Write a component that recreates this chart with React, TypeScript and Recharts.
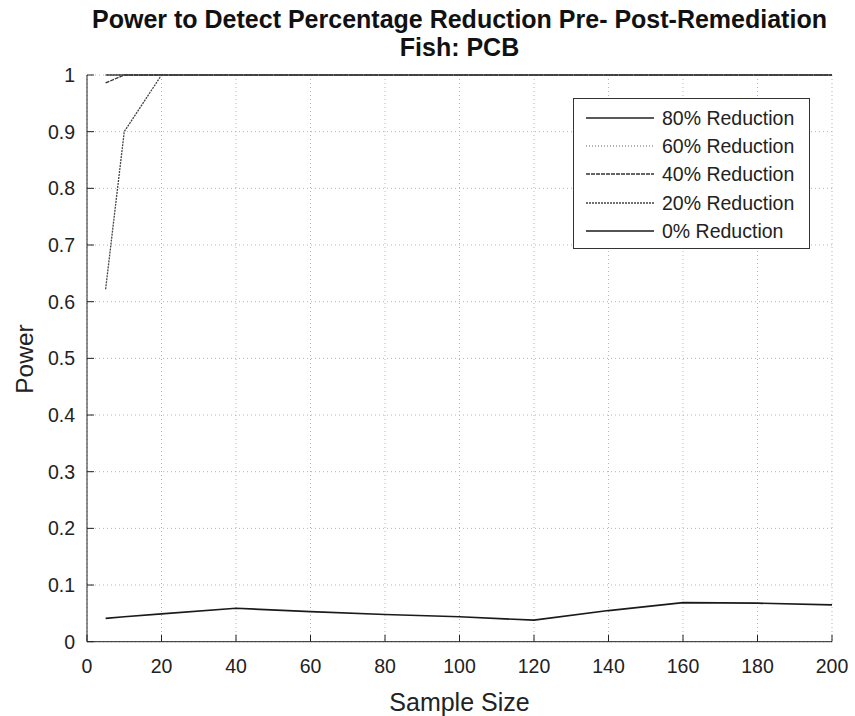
import { CartesianGrid, Legend, Line, LineChart, XAxis, YAxis } from "recharts";

const sampleSizes = [5, 10, 20, 40, 60, 80, 100, 120, 140, 160, 180, 200];
const power80 = [1, 1, 1, 1, 1, 1, 1, 1, 1, 1, 1, 1];
const power60 = [1, 1, 1, 1, 1, 1, 1, 1, 1, 1, 1, 1];
const power40 = [0.986, 1, 1, 1, 1, 1, 1, 1, 1, 1, 1, 1];
const power20 = [0.622, 0.9, 1, 1, 1, 1, 1, 1, 1, 1, 1, 1];
const power0 = [0.041, 0.044, 0.049, 0.059, 0.053, 0.048, 0.044, 0.038, 0.055, 0.069, 0.068, 0.065];

const xTicks = [0, 20, 40, 60, 80, 100, 120, 140, 160, 180, 200];
const yTicks = [0, 0.1, 0.2, 0.3, 0.4, 0.5, 0.6, 0.7, 0.8, 0.9, 1];

const seriesNames = ["80% Reduction", "60% Reduction", "40% Reduction", "20% Reduction", "0% Reduction"];
const seriesKeys = ["r80", "r60", "r40", "r20", "r0"];

const data = sampleSizes.map((n, i) => ({
  n,
  r80: power80[i],
  r60: power60[i],
  r40: power40[i],
  r20: power20[i],
  r0: power0[i]
}));

const FONT = "'Liberation Sans', Arial, Helvetica, sans-serif";
const INK = "#222";

const lineStyles = [
  { stroke: "#222", dash: undefined, width: 1.3 },
  { stroke: "#9a9a9a", dash: "1 2", width: 1.3 },
  { stroke: "#333", dash: "4 1", width: 1.3 },
  { stroke: "#444", dash: "2 1", width: 1.3 },
  { stroke: "#1a1a1a", dash: undefined, width: 1.7 }
];

function LegendBox() {
  return (
    <div
      style={{
        position: "relative",
        width: 237,
        height: 151,
        boxSizing: "border-box",
        border: "1px solid #333",
        background: "#fff",
        fontFamily: FONT,
        fontSize: 19.5,
        color: INK
      }}
    >
      {seriesNames.map((name, i) => (
        <div
          key={name}
          style={{ position: "absolute", left: 0, top: 18.7 + i * 28.3 - 14, height: 28, width: 235 }}
        >
          <svg width={68} height={28} style={{ position: "absolute", left: 12, top: 0 }}>
            <line
              x1={0}
              x2={68}
              y1={14}
              y2={14}
              stroke={lineStyles[i].stroke}
              strokeWidth={lineStyles[i].width}
              strokeDasharray={lineStyles[i].dash}
            />
          </svg>
          <span style={{ position: "absolute", left: 88, top: 0, lineHeight: "28px", whiteSpace: "nowrap" }}>
            {name}
          </span>
        </div>
      ))}
    </div>
  );
}

// title + x label drawn together as the bottom axis label
const AxisTexts = () => (
  <g fontFamily={FONT} fill={INK}>
    <text x={459.5} y={27.5} textAnchor="middle" fontSize={25} fontWeight="bold" fill="#111">
      Power to Detect Percentage Reduction Pre- Post-Remediation
    </text>
    <text x={459.5} y={55.5} textAnchor="middle" fontSize={25} fontWeight="bold" fill="#111">
      Fish: PCB
    </text>
    <text x={459.5} y={710.7} textAnchor="middle" fontSize={25}>
      Sample Size
    </text>
  </g>
);

export default function App() {
  const tickStyle = { fill: INK, fontSize: 19.5, fontFamily: FONT };
  return (
    <div style={{ position: "absolute", left: 0, top: 0, background: "#fff" }}>
      <LineChart
        width={855}
        height={716}
        data={data}
        margin={{ top: 75, right: 23, bottom: 0, left: 0 }}
      >
        <CartesianGrid
          stroke="#b5b5b5"
          strokeDasharray="1 3"
          horizontalValues={yTicks}
          verticalValues={xTicks}
        />
        <XAxis
          dataKey="n"
          type="number"
          domain={[0, 200]}
          ticks={xTicks}
          height={74.3}
          stroke={INK}
          tickLine={{ stroke: INK }}
          tickSize={-7}
          tickMargin={24.5}
          tick={tickStyle}
          label={{ content: () => <AxisTexts /> }}
        />
        <XAxis
          xAxisId="top"
          dataKey="n"
          orientation="top"
          type="number"
          domain={[0, 200]}
          ticks={xTicks}
          height={0}
          stroke={INK}
          tickLine={{ stroke: INK }}
          tickSize={-7}
          tick={false}
        />
        <YAxis
          type="number"
          domain={[0, 1]}
          ticks={yTicks}
          width={87}
          stroke={INK}
          tickLine={{ stroke: INK }}
          tickSize={-7}
          tickMargin={19}
          tick={tickStyle}
          tickFormatter={(v: number) => String(v)}
          label={{
            content: () => (
              <text
                x={33}
                y={359}
                transform="rotate(-90 33 359)"
                textAnchor="middle"
                fontFamily={FONT}
                fontSize={24.5}
                fill={INK}
              >
                Power
              </text>
            )
          }}
        />
        <YAxis
          yAxisId="right"
          orientation="right"
          type="number"
          domain={[0, 1]}
          ticks={yTicks}
          width={0}
          stroke={INK}
          tickLine={{ stroke: INK }}
          tickSize={-7}
          tick={false}
        />
        {seriesKeys.map((key, i) => (
          <Line
            key={key}
            dataKey={key}
            name={seriesNames[i]}
            xAxisId={i === 0 ? "top" : 0}
            yAxisId={i === 0 ? "right" : 0}
            type="linear"
            stroke={lineStyles[i].stroke}
            strokeWidth={lineStyles[i].width}
            strokeDasharray={lineStyles[i].dash}
            dot={false}
            activeDot={false}
            isAnimationActive={false}
          />
        ))}
        <Legend
          layout="vertical"
          align="center"
          verticalAlign="middle"
          content={() => <LegendBox />}
          wrapperStyle={{ left: 573, top: 98, width: 237, height: 151 }}
        />
      </LineChart>
    </div>
  );
}
